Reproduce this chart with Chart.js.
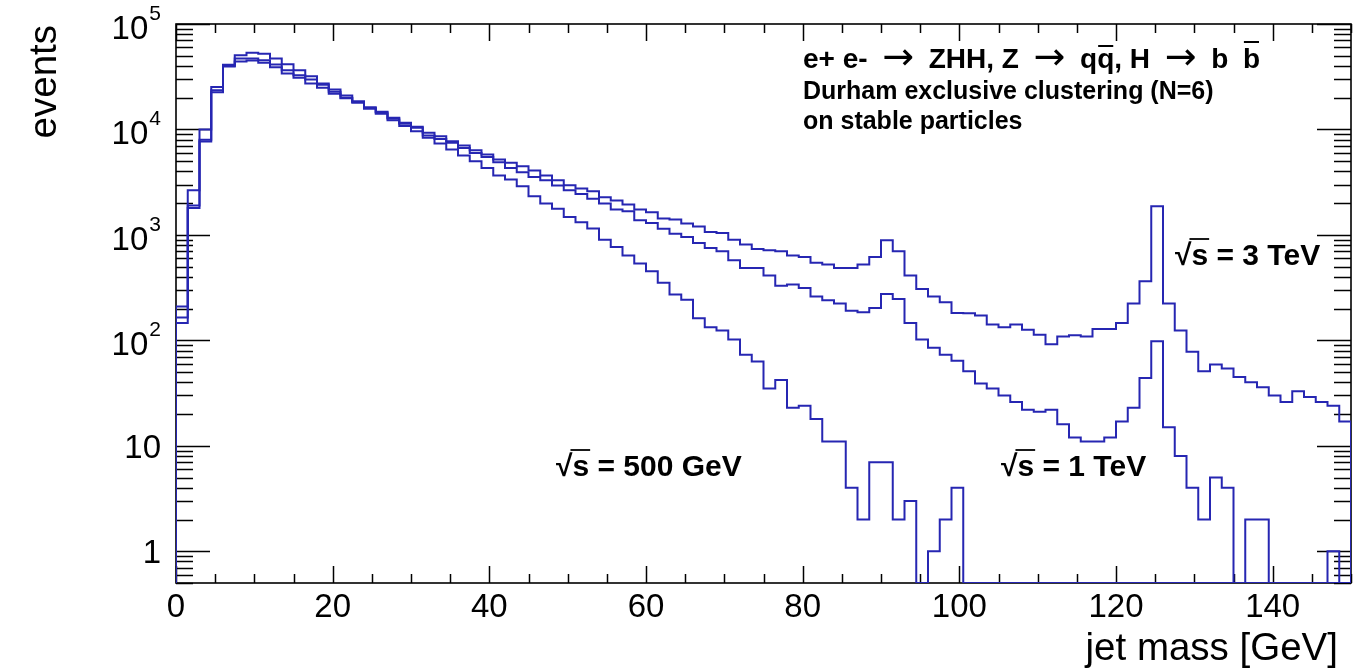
<!DOCTYPE html>
<html><head><meta charset="utf-8">
<script src="https://cdn.jsdelivr.net/npm/chart.js@4/dist/chart.umd.min.js"></script>
<style>html,body{margin:0;padding:0;background:#fff;}#wrap{width:1363px;height:670px;}</style>
</head><body><div id="wrap"><canvas id="c" width="1363" height="670"></canvas></div>
<script>
// bin edges (GeV), 100 bins of 1.5 GeV
const BIN_EDGES = [0,1.5,3,4.5,6,7.5,9,10.5,12,13.5,15,16.5,18,19.5,21,22.5,24,25.5,27,28.5,30,31.5,33,34.5,36,37.5,39,40.5,42,43.5,45,46.5,48,49.5,51,52.5,54,55.5,57,58.5,60,61.5,63,64.5,66,67.5,69,70.5,72,73.5,75,76.5,78,79.5,81,82.5,84,85.5,87,88.5,90,91.5,93,94.5,96,97.5,99,100.5,102,103.5,105,106.5,108,109.5,111,112.5,114,115.5,117,118.5,120,121.5,123,124.5,126,127.5,129,130.5,132,133.5,135,136.5,138,139.5,141,142.5,144,145.5,147,148.5,150];

const EVENTS_500GEV = [210,2650,9980,25300,41000,50600,53300,52100,47100,41600,
36400,32000,26500,22800,20000,17900,15700,14060,12230,10800,
9600,8330,7350,6440,5650,4990,4320,3655,3350,2890,
2324,1982,1766,1482,1318,1148,902,769,637,535,
452,351,272,243,162,133,124,102,73,63,
35,42,23,24,18,11,11,4,2,7,
7,2,3,0,1,2,4,0,0,0,
0,0,0,0,0,0,0,0,0,0,
0,0,0,0,0,0,0,0,0,0,
0,0,0,0,0,0,0,0,0,0];

const EVENTS_1TEV = [165,1900,8000,23500,40000,47100,47100,45400,41300,36400,
32700,29750,27300,23900,21000,18500,16250,14700,12880,11550,
10400,8750,8140,7460,6680,5990,5490,4885,4320,3925,
3550,3296,2937,2650,2448,2197,1982,1739,1675,1376,
1300,1141,1028,953,836,753,699,574,486,486,
411,330,338,314,261,240,223,191,185,203,
275,247,146,102,85,73,64,51,39,35,
30,26,22,21,22,16,12,11,11,12,
17,23,44,98,15,8,4,2,5,4,
0,2,2,0,0,0,0,0,1,0];

const EVENTS_3TEV = [146,1800,7700,22500,39500,44000,45100,42800,38900,33900,
30900,27300,24800,21800,19800,18200,16000,14500,12700,11300,
10600,9290,8620,7730,7030,6350,5780,5180,4820,4480,
4075,3655,3296,2956,2750,2593,2275,2115,1937,1739,
1638,1429,1397,1280,1199,1067,1045,902,809,736,
714,699,637,618,543,523,486,486,523,618,
889,699,411,307,261,230,182,181,172,141,
133,141,126,113,92,109,112,109,128,128,
146,223,363,1868,223,124,78,51,59,54,
45,40,36,30,26,33,29,26,24,17];

const X_MAJOR_TICKS = [0,20,40,60,80,100,120,140];
const X_TICK_LABELS = ["0","20","40","60","80","100","120","140"];
const Y_MAJOR_TICKS = [1,10,100,1000,10000,100000];
const Y_TICK_LABELS = [["1",""],["10",""],["10","2"],["10","3"],["10","4"],["10","5"]];
const X_MIN = 0, X_MAX = 150, Y_MIN = 0.5, Y_MAX = 1e5;

const LINE_COLOR = 'rgb(38,38,178)';
const FONT = '"Liberation Sans", Arial, Helvetica, sans-serif';
const SYM_FONT = '"DejaVu Sans", sans-serif';

function histPoints(vals) {
  const pts = [{x: BIN_EDGES[0], y: Y_MIN}];
  for (let i = 0; i < vals.length; i++) {
    pts.push({x: BIN_EDGES[i], y: vals[i] > 0 ? vals[i] : Y_MIN});
  }
  const last = vals[vals.length - 1];
  pts.push({x: BIN_EDGES[vals.length], y: last > 0 ? last : Y_MIN});
  pts.push({x: BIN_EDGES[vals.length], y: Y_MIN});
  return pts;
}
function ds(label, vals) {
  return {label, data: histPoints(vals), stepped: 'before', borderColor: LINE_COLOR,
    borderWidth: 2, fill: false, pointRadius: 0, tension: 0};
}

const rootPlugin = {
  id: 'rootStyle',
  beforeDatasetsDraw(chart) {
    const ctx = chart.ctx, ca = chart.chartArea, xs = chart.scales.x, ys = chart.scales.y;
    ctx.save();
    ctx.strokeStyle = '#000';
    ctx.lineWidth = 1.5;
    ctx.beginPath();
    for (let v = X_MIN; v <= X_MAX; v += 5) {
      const px = Math.round(xs.getPixelForValue(v)) + 0.5;
      const L = X_MAJOR_TICKS.includes(v) ? 17 : 9;
      ctx.moveTo(px, ca.bottom); ctx.lineTo(px, ca.bottom - L);
      ctx.moveTo(px, ca.top); ctx.lineTo(px, ca.top + L);
    }
    for (let k = -1; k <= 5; k++) {
      for (let m = 1; m <= 9; m++) {
        const v = m * Math.pow(10, k);
        if (v < Y_MIN - 1e-9 || v > Y_MAX + 1e-6) continue;
        const py = Math.round(ys.getPixelForValue(v)) + 0.5;
        const L = m === 1 ? 34 : 17;
        ctx.moveTo(ca.left, py); ctx.lineTo(ca.left + L, py);
        ctx.moveTo(ca.right, py); ctx.lineTo(ca.right - L, py);
      }
    }
    ctx.stroke();
    ctx.lineWidth = 1.6;
    ctx.strokeRect(ca.left, ca.top, ca.right - ca.left, ca.bottom - ca.top);

    // tick labels
    ctx.fillStyle = '#000';
    ctx.font = '33px ' + FONT;
    ctx.textAlign = 'center';
    ctx.textBaseline = 'alphabetic';
    X_MAJOR_TICKS.forEach((v, i) => {
      ctx.fillText(X_TICK_LABELS[i], xs.getPixelForValue(v), 617);
    });
    Y_MAJOR_TICKS.forEach((v, i) => {
      const py = ys.getPixelForValue(v);
      const [base, exp] = Y_TICK_LABELS[i];
      const right = 161;
      ctx.textAlign = 'right';
      if (exp) {
        ctx.font = '21px ' + FONT;
        ctx.fillText(exp, right, py - 4);
        const ew = ctx.measureText(exp).width;
        ctx.font = '33px ' + FONT;
        ctx.fillText(base, right - ew - 1, py + 15);
      } else {
        ctx.font = '33px ' + FONT;
        ctx.fillText(base, right, py + 12);
      }
    });

    // axis titles
    ctx.font = '38.5px ' + FONT;
    ctx.textAlign = 'right';
    ctx.fillText('jet mass [GeV]', 1338, 660);
    ctx.save();
    ctx.translate(56, 25);
    ctx.rotate(-Math.PI / 2);
    ctx.textAlign = 'right';
    ctx.fillText('events', 0, 0);
    ctx.restore();
    ctx.restore();
  },
  afterDatasetsDraw(chart) {
    const ctx = chart.ctx;
    ctx.save();
    ctx.fillStyle = '#000';
    ctx.strokeStyle = '#000';
    ctx.textAlign = 'left';
    ctx.textBaseline = 'alphabetic';
    // line 1: parts [text, overline type, gap before, symbol font]
    const F1 = 'bold 28px ' + FONT, FS = '38px ' + SYM_FONT;
    const parts = [['e+ e-',0,0,0],['\u2192',0,1,1],['ZHH, Z',0,1,0],['\u2192',0,1,1],['q',0,1,0],['q',1,0,0],[', H',0,0,0],['\u2192',0,1,1],['b',0,1,0],['b',2,1,0]];
    const widths = parts.map(p => { ctx.font = p[3] ? FS : F1; return ctx.measureText(p[0]).width; });
    const total = widths.reduce((a, b) => a + b, 0);
    let nG = 0; parts.forEach(p => nG += p[2]);
    const gap = (457 - total) / nG;
    let x = 803;
    const base1 = 68;
    ctx.lineWidth = 2;
    parts.forEach((p, i) => {
      x += p[2] * gap;
      ctx.font = p[3] ? FS : F1;
      ctx.fillText(p[0], x, p[3] ? base1 + 1 : base1);
      if (p[1] === 1) { ctx.beginPath(); ctx.moveTo(x + 1, base1 - 22); ctx.lineTo(x + widths[i] - 1, base1 - 22); ctx.stroke(); }
      if (p[1] === 2) { ctx.beginPath(); ctx.moveTo(x + 1, base1 - 26); ctx.lineTo(x + widths[i] - 1, base1 - 26); ctx.stroke(); }
      x += widths[i];
    });
    ctx.font = 'bold 25px ' + FONT;
    ctx.fillText('Durham exclusive clustering (N=6)', 803, 99);
    ctx.fillText('on stable particles', 803, 129);

    // sqrt(s) labels
    function sqrtLabel(txt, x0, yb) {
      ctx.font = 'bold 30px ' + FONT;
      const wr = ctx.measureText('\u221A').width;
      ctx.fillText('\u221A', x0, yb);
      const ws = ctx.measureText('s').width;
      ctx.fillText('s', x0 + wr, yb);
      ctx.lineWidth = 1.8;
      ctx.beginPath(); ctx.moveTo(x0 + wr - 2, yb - 26); ctx.lineTo(x0 + wr + ws + 1, yb - 26); ctx.stroke();
      ctx.fillText(' = ' + txt, x0 + wr + ws, yb);
    }
    sqrtLabel('3 TeV', 1175, 265);
    sqrtLabel('1 TeV', 1001, 476);
    sqrtLabel('500 GeV', 556, 476);
    ctx.restore();
  }
};

new Chart(document.getElementById('c').getContext('2d'), {
  type: 'line',
  data: { datasets: [ds('\u221As = 500 GeV', EVENTS_500GEV), ds('\u221As = 1 TeV', EVENTS_1TEV), ds('\u221As = 3 TeV', EVENTS_3TEV)] },
  options: {
    responsive: false, animation: false, devicePixelRatio: 1,
    layout: {padding: {top: 24, right: 12, left: 0, bottom: 0}},
    plugins: {legend: {display: false}, tooltip: {enabled: false}, title: {display: false}},
    scales: {
      x: {type: 'linear', min: X_MIN, max: X_MAX, ticks: {display: false}, grid: {display: false, drawTicks: false}, border: {display: false}, afterFit: s => { s.height = 87; }},
      y: {type: 'logarithmic', min: Y_MIN, max: Y_MAX, ticks: {display: false}, grid: {display: false, drawTicks: false}, border: {display: false}, afterFit: s => { s.width = 176; }}
    }
  },
  plugins: [rootPlugin]
});
</script></body></html>
